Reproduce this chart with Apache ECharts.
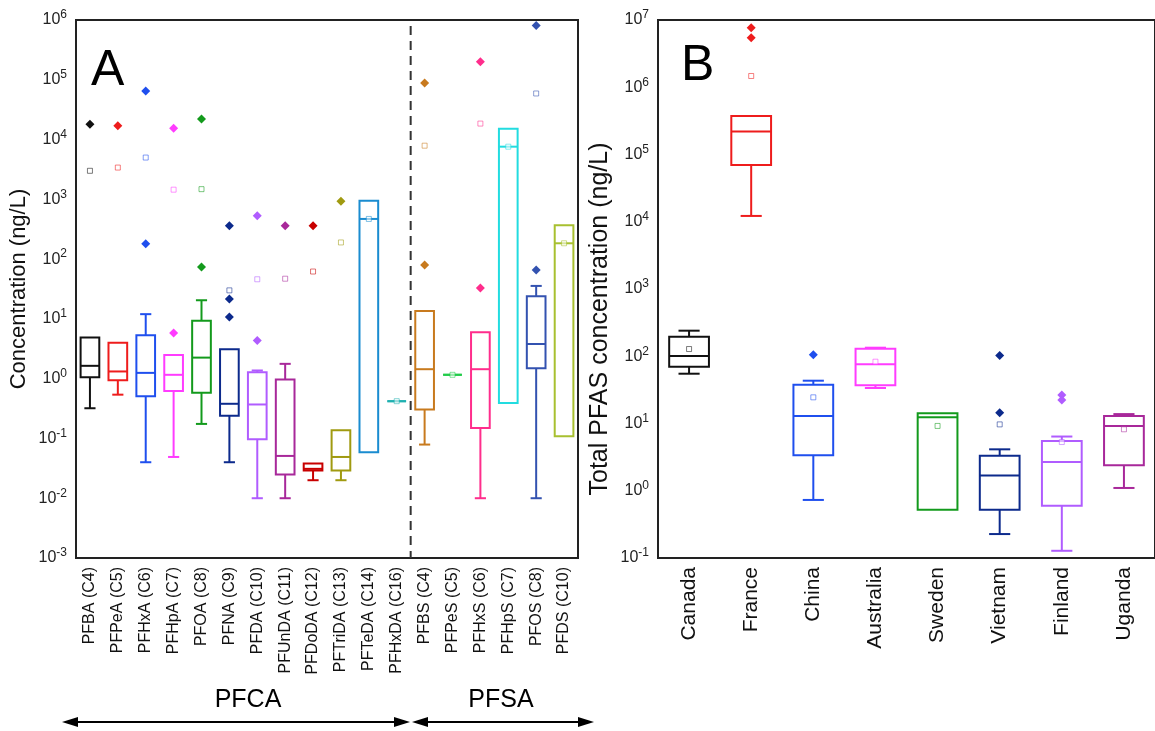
<!DOCTYPE html>
<html>
<head>
<meta charset="utf-8">
<script src="https://cdn.jsdelivr.net/npm/echarts@6/dist/echarts.min.js"></script>
<style>
html, body { margin: 0; padding: 0; background: #fff; }
#main { width: 1155px; height: 731px; }
</style>
</head>
<body>
<div id="main"></div>
<script>
// Panel A: individual PFAS
var compounds = ['PFBA (C4)', 'PFPeA (C5)', 'PFHxA (C6)', 'PFHpA (C7)', 'PFOA (C8)', 'PFNA (C9)',
  'PFDA (C10)', 'PFUnDA (C11)', 'PFDoDA (C12)', 'PFTriDA (C13)', 'PFTeDA (C14)', 'PFHxDA (C16)',
  'PFBS (C4)', 'PFPeS (C5)', 'PFHxS (C6)', 'PFHpS (C7)', 'PFOS (C8)', 'PFDS (C10)'];
var compLow    = [0.32, 0.54, 0.04, 0.049, 0.175, 0.04, 0.01, 0.01, 0.02, 0.02, 0.059, 0.42, 0.079, 1.16, 0.01, 0.39, 0.01, 0.109];
var compQ1     = [1.06, 0.94, 0.51, 0.62, 0.58, 0.24, 0.097, 0.025, 0.029, 0.029, 0.059, 0.42, 0.305, 1.16, 0.15, 0.39, 1.5, 0.109];
var compMedian = [1.64, 1.32, 1.25, 1.16, 2.25, 0.38, 0.37, 0.051, 0.031, 0.049, 470, 0.42, 1.44, 1.16, 1.44, 7600, 3.8, 184];
var compQ3     = [4.9, 4.0, 5.3, 2.5, 9.3, 3.1, 1.28, 0.97, 0.038, 0.137, 950, 0.42, 13.6, 1.16, 6.0, 15200, 24, 370];
var compHigh   = [4.9, 4.0, 12, 2.5, 20.5, 3.1, 1.37, 1.77, 0.038, 0.137, 950, 0.42, 13.6, 1.16, 6.0, 15200, 35.6, 370];
var compMean   = [3000, 3400, 5000, 1450, 1480, 30, 46, 47, 62, 190, 470, 0.42, 7900, 1.16, 18500, 7600, 59000, 184];
var compOutliers = [
  [0, 18000], [1, 17000], [2, 65000], [2, 180], [3, 15500], [3, 5.8], [4, 22000], [4, 74],
  [5, 360], [5, 21.6], [5, 10.8], [6, 530], [6, 4.35], [7, 360], [8, 360], [9, 930],
  [12, 88000], [12, 80], [14, 200000], [14, 33], [16, 810000], [16, 66]
];

// Panel B: total PFAS by country
var countries = ['Canada', 'France', 'China', 'Australia', 'Sweden', 'Vietnam', 'Finland', 'Uganda'];
var totLow    = [55, 12200, 0.73, 33.7, 0.52, 0.227, 0.128, 1.1];
var totQ1     = [70, 70000, 3.36, 37, 0.52, 0.52, 0.6, 2.39];
var totMedian = [101, 220000, 12.9, 76, 12.4, 1.69, 2.67, 9.2];
var totQ3     = [195, 373000, 37.8, 129, 14.2, 3.32, 5.5, 12.9];
var totHigh   = [240, 373000, 43.3, 134, 14.2, 4.13, 6.4, 13.8];
var totMean   = [128, 1470000, 24.5, 83, 9.2, 9.7, 5.3, 8.2];
var totOutliers = [[1, 7700000], [1, 5460000], [2, 105], [5, 103], [5, 14.5], [6, 26.5], [6, 22.3]];

var compColors = ['#111111', '#ee1c1c', '#1f4fee', '#ff3cff', '#139a1c', '#0c2a8c', '#b05cff', '#a8289a',
  '#c80000', '#a09a10', '#1a8cd0', '#1fb0b0', '#c87a1e', '#22cc4a', '#ff2d8c', '#22dce0', '#3352b0', '#a8c030'];
var countryColors = ['#111111', '#ee1c1c', '#1f4fee', '#ff3cff', '#139a1c', '#0c2a8c', '#b05cff', '#a8289a'];

var FONT = 'Liberation Sans, Arial, sans-serif';

function buildBoxData(low, q1, med, q3, high) {
  return low.map(function (v, i) { return [i, v, q1[i], med[i], q3[i], high[i]]; });
}

function buildMeanData(mean, colors) {
  return mean.map(function (v, i) {
    return { value: [i, v], itemStyle: { borderColor: colors[i] } };
  });
}

function boxRenderer(colors, boxRatio, capRatio) {
  return function (params, api) {
    var i = api.value(0);
    var band = api.size([1, 0])[0];
    var bw = band * boxRatio / 2;
    var cw = band * capRatio / 2;
    var pLow = api.coord([i, api.value(1)]);
    var pQ1 = api.coord([i, api.value(2)]);
    var pMed = api.coord([i, api.value(3)]);
    var pQ3 = api.coord([i, api.value(4)]);
    var pHigh = api.coord([i, api.value(5)]);
    var x = pMed[0];
    var st = { stroke: colors[params.dataIndex], lineWidth: 2, fill: 'none' };
    var kids = [
      { type: 'rect', shape: { x: x - bw, y: pQ3[1], width: 2 * bw, height: pQ1[1] - pQ3[1] }, style: st },
      { type: 'line', shape: { x1: x - bw, y1: pMed[1], x2: x + bw, y2: pMed[1] }, style: st }
    ];
    if (pLow[1] - pQ1[1] > 0.5) {
      kids.push({ type: 'line', shape: { x1: x, y1: pQ1[1], x2: x, y2: pLow[1] }, style: st });
      kids.push({ type: 'line', shape: { x1: x - cw, y1: pLow[1], x2: x + cw, y2: pLow[1] }, style: st });
    }
    if (pQ3[1] - pHigh[1] > 0.5) {
      kids.push({ type: 'line', shape: { x1: x, y1: pQ3[1], x2: x, y2: pHigh[1] }, style: st });
      kids.push({ type: 'line', shape: { x1: x - cw, y1: pHigh[1], x2: x + cw, y2: pHigh[1] }, style: st });
    }
    return { type: 'group', children: kids };
  };
}

function powLabel(v) {
  var e = Math.round(Math.log10(v));
  return '{b|10}{s|' + e + '}';
}
var powRich = {
  b: { fontSize: 16, fontFamily: FONT, color: '#222' },
  s: { fontSize: 12, fontFamily: FONT, color: '#222', verticalAlign: 'top', padding: [-3, 0, 0, 0] }
};

function logAxis(gridIndex, min, max, name, nameGap, nameSize, namePad) {
  return {
    type: 'log', logBase: 10, gridIndex: gridIndex, min: min, max: max, splitNumber: 10,
    name: name, nameLocation: 'middle', nameGap: nameGap,
    nameTextStyle: { fontSize: nameSize, fontFamily: FONT, color: '#111', padding: namePad },
    axisLine: { show: true, lineStyle: { color: '#222', width: 2 } },
    axisTick: { show: false },
    splitLine: { show: false },
    axisLabel: { formatter: powLabel, rich: powRich, margin: 9 }
  };
}

function catAxis(gridIndex, data, fontSize) {
  return {
    type: 'category', gridIndex: gridIndex, data: data,
    axisLine: { show: true, lineStyle: { color: '#222', width: 2 } },
    axisTick: { show: false },
    axisLabel: { rotate: 90, fontSize: fontSize, fontFamily: FONT, color: '#111', margin: 9, interval: 0 }
  };
}

var chart = echarts.init(document.getElementById('main'));

var option = {
  animation: false,
  backgroundColor: '#fff',
  grid: [
    { left: 76, top: 20, width: 502, height: 538, show: true, borderColor: '#222', borderWidth: 2 },
    { left: 658, top: 20, width: 506, height: 538, show: true, borderColor: '#222', borderWidth: 2 }
  ],
  xAxis: [catAxis(0, compounds, 16), catAxis(1, countries, 21)],
  yAxis: [
    logAxis(0, 0.001, 1000000, 'Concentration (ng/L)', 46, 22, [0, 0, 0, 0]),
    logAxis(1, 0.1, 10000000, 'Total PFAS concentration (ng/L)', 45, 25, [0, 60, 0, 0])
  ],
  series: [
    {
      type: 'custom', xAxisIndex: 0, yAxisIndex: 0,
      renderItem: boxRenderer(compColors, 0.67, 0.4),
      encode: { x: 0, y: [1, 2, 3, 4, 5] },
      data: buildBoxData(compLow, compQ1, compMedian, compQ3, compHigh)
    },
    {
      type: 'scatter', xAxisIndex: 0, yAxisIndex: 0, symbol: 'diamond', symbolSize: 9,
      itemStyle: { opacity: 1, color: function (p) { return compColors[p.value[0]]; } },
      data: compOutliers
    },
    {
      type: 'scatter', xAxisIndex: 0, yAxisIndex: 0, symbol: 'rect', symbolSize: 5,
      itemStyle: { color: '#fff', opacity: 0.55, borderWidth: 1 },
      data: buildMeanData(compMean, compColors)
    },
    {
      // dashed separator between the PFCA and PFSA groups
      type: 'custom', xAxisIndex: 0, yAxisIndex: 0, silent: true,
      renderItem: function (params, api) {
        var band = api.size([1, 0])[0];
        var top = api.coord([api.value(0), api.value(1)]);
        var bot = api.coord([api.value(0), api.value(2)]);
        var x = top[0] + band / 2;
        return { type: 'line', shape: { x1: x, y1: top[1] + 6, x2: x, y2: bot[1] },
          style: { stroke: '#333', lineWidth: 2, lineDash: [9, 6] } };
      },
      encode: { x: 0, y: [1, 2] },
      data: [[11, 1000000, 0.001]]
    },
    {
      type: 'custom', xAxisIndex: 1, yAxisIndex: 1,
      renderItem: boxRenderer(countryColors, 0.64, 0.34),
      encode: { x: 0, y: [1, 2, 3, 4, 5] },
      data: buildBoxData(totLow, totQ1, totMedian, totQ3, totHigh)
    },
    {
      type: 'scatter', xAxisIndex: 1, yAxisIndex: 1, symbol: 'diamond', symbolSize: 9,
      itemStyle: { opacity: 1, color: function (p) { return countryColors[p.value[0]]; } },
      data: totOutliers
    },
    {
      type: 'scatter', xAxisIndex: 1, yAxisIndex: 1, symbol: 'rect', symbolSize: 5,
      itemStyle: { color: '#fff', opacity: 0.55, borderWidth: 1 },
      data: buildMeanData(totMean, countryColors)
    }
  ],
  graphic: [
    { type: 'text', left: 91, top: 46, style: { text: 'A', fontSize: 50, fontFamily: FONT, fill: '#000' } },
    { type: 'text', left: 681, top: 41, style: { text: 'B', fontSize: 50, fontFamily: FONT, fill: '#000' } },
    { type: 'text', x: 248, y: 700, style: { text: 'PFCA', fontSize: 25, fontFamily: FONT, fill: '#000', align: 'center', verticalAlign: 'middle' } },
    { type: 'text', x: 501, y: 700, style: { text: 'PFSA', fontSize: 25, fontFamily: FONT, fill: '#000', align: 'center', verticalAlign: 'middle' } },
    { type: 'line', shape: { x1: 70, y1: 722, x2: 404, y2: 722 }, style: { stroke: '#000', lineWidth: 2 } },
    { type: 'line', shape: { x1: 418, y1: 722, x2: 586, y2: 722 }, style: { stroke: '#000', lineWidth: 2 } },
    { type: 'polygon', shape: { points: [[62, 722], [78, 717], [78, 727]] }, style: { fill: '#000' } },
    { type: 'polygon', shape: { points: [[410, 722], [394, 717], [394, 727]] }, style: { fill: '#000' } },
    { type: 'polygon', shape: { points: [[412, 722], [428, 717], [428, 727]] }, style: { fill: '#000' } },
    { type: 'polygon', shape: { points: [[594, 722], [578, 717], [578, 727]] }, style: { fill: '#000' } }
  ]
};

chart.setOption(option);
</script>
</body>
</html>
